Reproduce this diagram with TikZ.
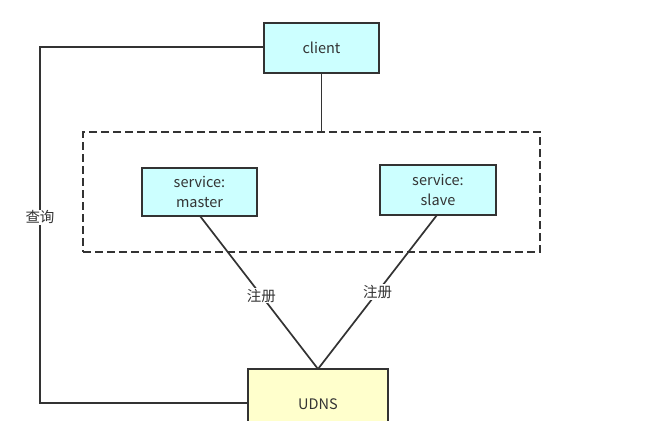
\documentclass[tikz,border=0pt]{standalone}
\usepackage{fontspec}
\setmainfont{Noto Sans CJK SC}
\definecolor{cyanfill}{HTML}{CCFFFF}
\definecolor{yelfill}{HTML}{FFFFCC}
\definecolor{ink}{HTML}{333333}
\begin{document}
\begin{tikzpicture}[x=1pt,y=-1pt,
  line/.style={draw=ink,line width=1.7pt},
  boxfont/.style={font=\fontsize{14.5}{20}\selectfont,text=ink},
  cbox/.style={line,fill=cyanfill,rectangle,minimum width=#1,align=center,boxfont,inner sep=0pt},
  lbl/.style={fill=white,font=\fontsize{14.5}{16}\selectfont,text=ink,inner sep=1pt}]
\useasboundingbox (0,0) rectangle (649,421);
\node[cbox=115pt,minimum height=50pt] (client) at (321.5,48) {client};
\node[line,dashed,dash pattern=on 8pt off 4pt,minimum width=457pt,minimum height=120pt,inner sep=0pt] (group) at (311.5,192) {};
\node[cbox=115pt,minimum height=48pt] (master) at (199.5,192) {service:\\master};
\node[cbox=116pt,minimum height=50pt] (slave) at (438,190) {service:\\slave};
\node[line,fill=yelfill,minimum width=140pt,minimum height=70pt,inner sep=0pt] (udnsbox) at (318,404) {};
\node[boxfont] (udns) at (318,404) {UDNS};
\coordinate (conv) at (318,369);
\coordinate (m) at (200,216);
\coordinate (s) at (437,215);
\draw[line] (client.south) -- (client.south|-group.north);
\draw[line] (m) -- node[lbl,pos=0.52] (l1) {注册} (conv);
\draw[line] (s) -- node[lbl,pos=0.5] (l2) {注册} (conv);
\coordinate (tl) at (40,47);
\coordinate (bl) at (40,403);
\draw[line] (client.west|-tl) -- (tl) -- node[lbl,pos=0.478] (q) {查询} (bl) -- (udnsbox.west|-bl);
\end{tikzpicture}
\end{document}
